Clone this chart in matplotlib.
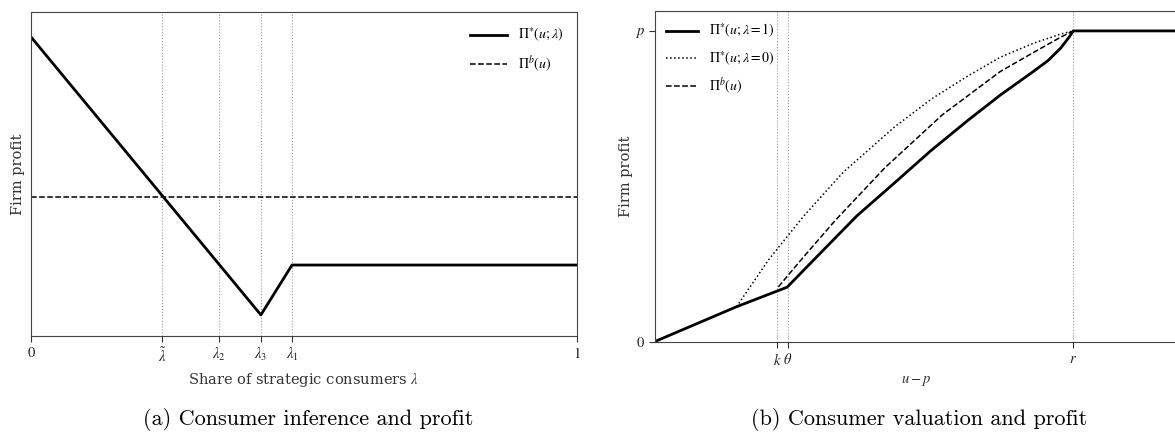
import numpy as np
import matplotlib
matplotlib.use('Agg')
import matplotlib.pyplot as plt

plt.rcParams['mathtext.fontset'] = 'stix'
plt.rcParams['font.family'] = 'DejaVu Serif'

# panel (a): profit vs share of strategic consumers
lam_ticks = [0, 0.240, 0.344, 0.421, 0.478, 1]
lam_labels = ['$0$', r'$\tilde{\lambda}$', r'$\lambda_2$', r'$\lambda_3$', r'$\lambda_1$', '$1$']
lam_pts = [0, 0.421, 0.478, 1]
profit_star = [0.923, 0.065, 0.219, 0.219]
profit_b = 0.429

# panel (b): profit vs u-p   (r = 1, p = 1)
b_ticks = [0.292, 0.318, 1.0]
b_labels = ['$k$', r'$\theta$', '$r$']
x_solid = [0, 0.195, 0.316, 0.379, 0.483, 0.572, 0.660, 0.748, 0.825, 0.904, 0.940, 0.970, 0.990, 1.0, 1.25]
y_solid = [0, 0.112, 0.175, 0.262, 0.405, 0.510, 0.615, 0.712, 0.793, 0.869, 0.905, 0.945, 0.980, 1.0, 1.0]
x_dot = [0.195, 0.271, 0.319, 0.357, 0.450, 0.572, 0.660, 0.748, 0.825, 0.904, 0.970, 1.0]
y_dot = [0.112, 0.262, 0.343, 0.406, 0.545, 0.690, 0.780, 0.855, 0.915, 0.960, 0.990, 1.0]
x_dash = [0.295, 0.355, 0.431, 0.550, 0.687, 0.825, 0.904, 0.970, 1.0]
y_dash = [0.176, 0.272, 0.390, 0.560, 0.730, 0.869, 0.930, 0.980, 1.0]

fig = plt.figure(figsize=(11.75, 4.36), dpi=100)
ax1 = fig.add_axes([0.0264, 0.2294, 0.4647, 0.743])
ax2 = fig.add_axes([0.5574, 0.2167, 0.4451, 0.758])

for t in lam_ticks[1:-1]:
    ax1.axvline(t, color='#999999', ls=':', lw=0.8, zorder=0)
ax1.plot(lam_pts, profit_star, color='black', lw=2, label=r'$\Pi^{*}(u;\lambda)$')
ax1.axhline(profit_b, color='black', lw=1.1, ls='--', label=r'$\Pi^{b}(u)$')
ax1.set_xlim(0, 1)
ax1.set_ylim(0, 1)
ax1.set_xticks(lam_ticks)
ax1.set_xticklabels(lam_labels, fontsize=10.5)
ax1.set_yticks([])
ax1.set_xlabel(r'Share of strategic consumers $\lambda$', fontsize=10.5, color='#333333')
ax1.set_ylabel('Firm profit', fontsize=10.5, color='#333333', labelpad=4)
ax1.legend(loc='upper right', frameon=False, fontsize=10, handlelength=2.6,
           borderaxespad=0.6, labelspacing=0.75)

for t in b_ticks:
    ax2.axvline(t, color='#999999', ls=':', lw=0.8, zorder=0)
ax2.plot(x_solid, y_solid, color='black', lw=2, label=r'$\Pi^{*}(u;\lambda=1)$')
ax2.plot(x_dot, y_dot, color='black', lw=1.1, ls=':', label=r'$\Pi^{*}(u;\lambda=0)$')
ax2.plot(x_dash, y_dash, color='black', lw=1.1, ls='--', label=r'$\Pi^{b}(u)$')
ax2.set_xlim(0, 1.25)
ax2.set_ylim(0, 1.064)
ax2.set_xticks(b_ticks)
ax2.set_xticklabels(b_labels, fontsize=10.5)
ax2.set_yticks([0, 1])
ax2.set_yticklabels(['$0$', '$p$'], fontsize=10.5)
ax2.set_xlabel('$u-p$', fontsize=10.5, color='#333333')
ax2.set_ylabel('Firm profit', fontsize=10.5, color='#333333', labelpad=1)
ax2.legend(loc='upper left', frameon=False, fontsize=10, handlelength=2.3,
           borderaxespad=0.4, labelspacing=0.65)

for ax in (ax1, ax2):
    for s in ax.spines.values():
        s.set_color('#444444')
    ax.tick_params(length=4, color='#333333', labelcolor='#222222')

fig.text(0.262, 0.025, '(a) Consumer inference and profit', family='cmr10',
         fontsize=16, ha='center', va='baseline')
fig.text(0.782, 0.025, '(b) Consumer valuation and profit', family='cmr10',
         fontsize=16, ha='center', va='baseline')

fig.savefig('out.png', dpi=100)
